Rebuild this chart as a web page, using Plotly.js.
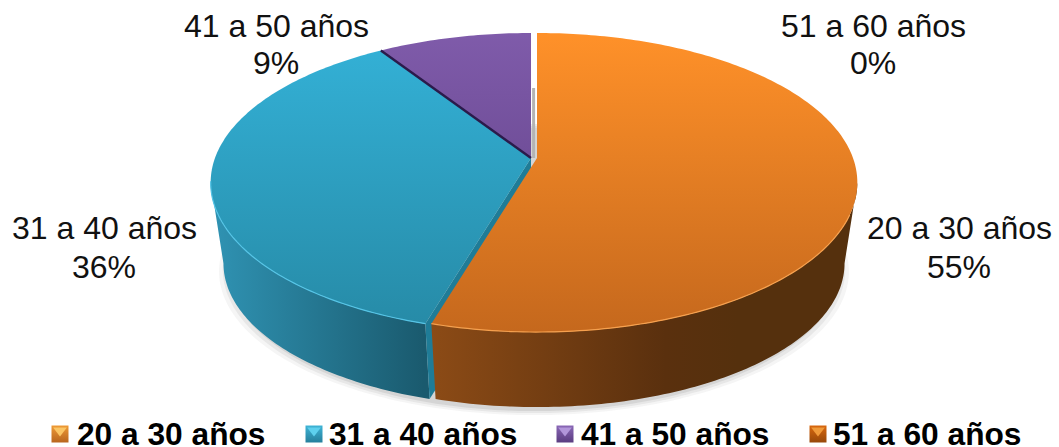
<!DOCTYPE html>
<html><head><meta charset="utf-8">
<script src="https://cdn.plot.ly/plotly-3.0.1.min.js"></script>
<style>html,body{margin:0;padding:0;background:#fff}#c{width:1059px;height:447px}</style>
</head><body><div id="c"></div>
<script>
const ageGroups = ['20 a 30 años','31 a 40 años','41 a 50 años','51 a 60 años'];
const counts = [12,8,2,0];

const topColors = [['#FF9129','#C5681D'],['#34B2D8','#268AA6'],['#7F5BAA','#5C3D82'],['#E36C0A','#A04F08']];
const rimColors = ['#F6A04E','#55C4E6','#9A78C4','#E36C0A'];
const legendSwatch = [['#EE9A36','#B9661E','#FBC564'],['#3FB4D6','#267F9C','#5ED0EE'],['#8A68B6','#5A3C80','#B296DA'],['#D9680F','#97480A','#F09A3A']];

// projection of the pie (perspective circle on the page)
const G = {cy:158, A:316, B:145.5, k:0.164, cyB:240, sB:0.96};
const offsetX = [537,531,531,537];
const total = counts.reduce((a,b)=>a+b,0);
const tanR = Math.acos(-G.k), tanL = 2*Math.PI-tanR;

function pt(cx,t,bottom){
  const u=Math.sin(t), v=Math.cos(t), w=1+G.k*v, s=bottom?G.sB:1, cy=bottom?G.cyB:G.cy;
  return [cx+s*G.A*u/w, cy-s*G.B*v/w];
}
function arc(cx,a,b,bottom){
  const n=Math.max(2,Math.ceil(Math.abs(b-a)*60)), out=[];
  for(let i=0;i<=n;i++) out.push(pt(cx,a+(b-a)*i/n,bottom));
  return out;
}
function poly(points,grad){
  return {type:'scatter',mode:'lines',x:points.map(p=>p[0]),y:points.map(p=>p[1]),
    fill:'toself',line:{width:0,color:'rgba(0,0,0,0)',simplify:false},fillgradient:grad,hoverinfo:'skip',showlegend:false};
}
function plain(points,color){
  return {type:'scatter',mode:'lines',x:points.map(p=>p[0]),y:points.map(p=>p[1]),
    fill:'toself',fillcolor:color,line:{width:0,color:'rgba(0,0,0,0)',simplify:false},hoverinfo:'skip',showlegend:false};
}
function line(points,color,width){
  return {type:'scatter',mode:'lines',x:points.map(p=>p[0]),y:points.map(p=>p[1]),
    line:{color:color,width:width,simplify:false},hoverinfo:'skip',showlegend:false};
}
function vgrad(c0,c1,y0,y1){return {type:'vertical',colorscale:[[0,c0],[1,c1]],start:y0,stop:y1};}

const traces=[];
[[1.000,4,0.10],[1.012,6,0.07],[1.024,8,0.05]].forEach(([sc,dy,op])=>{
  const pts=arc(534,0,2*Math.PI,true).map(p=>[534+(p[0]-534)*sc,p[1]+dy]);
  traces.push(plain(pts,'rgba(60,60,60,'+op+')'));
});

let acc=0; const slices=counts.map((c,i)=>{const a=acc/total*2*Math.PI; acc+=c; return {i,a,b:acc/total*2*Math.PI,c};});
[2,1,0].forEach(i=>{
  const s=slices[i], cx=offsetX[i]; if(s.c<=0) return;
  const topArc=arc(cx,s.a,s.b,false);
  const wa=Math.max(s.a,tanR), wb=Math.min(s.b,tanL);
  if(wb>wa){
    const wall=arc(cx,wa,wb,false).concat(arc(cx,wa,wb,true).reverse());
    if(i===0){
      traces.push(poly(wall,{type:'horizontal',colorscale:[[0,'#8C4B16'],[0.55,'#5A300E'],[0.72,'#55300D'],[1,'#55300D']],start:430,stop:858}));
    } else if(i===1){
      traces.push(poly(wall,{type:'horizontal',colorscale:[[0,'#2F92B2'],[1,'#1A5A6E']],start:215,stop:424}));
      const e=pt(cx,s.a,false), eb=pt(cx,s.a,true);
      traces.push(plain([[cx,G.cy],e,eb,[cx,G.cyB]],'#1F7C97'));
    }
  }
  traces.push(poly([[cx,G.cy]].concat(topArc),vgrad(topColors[i][0],topColors[i][1],33,332)));
  if(i===0){traces.push(line(arc(cx,Math.PI*0.62,s.b,false),rimColors[0],1.2));}
  if(i===1){traces.push(line(arc(cx,s.a,Math.PI*1.45,false),rimColors[1],1.2));}
});
const seam=slices[2]; const cxS=offsetX[2];
traces.push(line([[cxS,G.cy],pt(cxS,seam.a,false)],'#2B1B4B',2.4));
traces.push(line([[cxS+2.6,88],[cxS+2.6,G.cy]],'#B4B4B4',3));

const legendMarkX=[60,314,565,818], legendTextX=[74.5,326.5,578.5,830.5], legendY=434;
ageGroups.forEach((g,i)=>{
  traces.push({type:'scatter',mode:'markers',x:[legendMarkX[i]],y:[legendY],hoverinfo:'skip',showlegend:false,
    marker:{symbol:'square',size:17,color:legendSwatch[i][0],gradient:{type:'vertical',color:legendSwatch[i][1]},line:{width:0}}});
  traces.push({type:'scatter',mode:'markers',x:[legendMarkX[i]],y:[legendY-3.5],hoverinfo:'skip',showlegend:false,
    marker:{symbol:'triangle-down',size:12,color:legendSwatch[i][2],line:{width:0}}});
});

const labelPos=[[959,228,267],[104,228,267],[276,26,63],[873,26,63]];
const ann=[];
const font={family:'"Liberation Sans",Arial,sans-serif',size:32,color:'#111'};
ageGroups.forEach((g,i)=>{
  const pct=Math.round(counts[i]/total*100)+'%';
  ann.push({x:labelPos[i][0],y:labelPos[i][1],text:g,showarrow:false,xanchor:'center',yanchor:'middle',font});
  ann.push({x:labelPos[i][0],y:labelPos[i][2],text:pct,showarrow:false,xanchor:'center',yanchor:'middle',font});
  ann.push({x:legendTextX[i],y:legendY,text:'<b>'+g+'</b>',showarrow:false,xanchor:'left',yanchor:'middle',
    font:{family:font.family,size:31.7,color:'#000'}});
});

Plotly.newPlot('c',traces,{
  width:1059,height:447,margin:{l:0,r:0,t:0,b:0},paper_bgcolor:'#fff',plot_bgcolor:'#fff',showlegend:false,
  xaxis:{range:[0,1059],visible:false,fixedrange:true},
  yaxis:{range:[447,0],visible:false,fixedrange:true},
  annotations:ann
},{displayModeBar:false,staticPlot:true});
</script></body></html>
